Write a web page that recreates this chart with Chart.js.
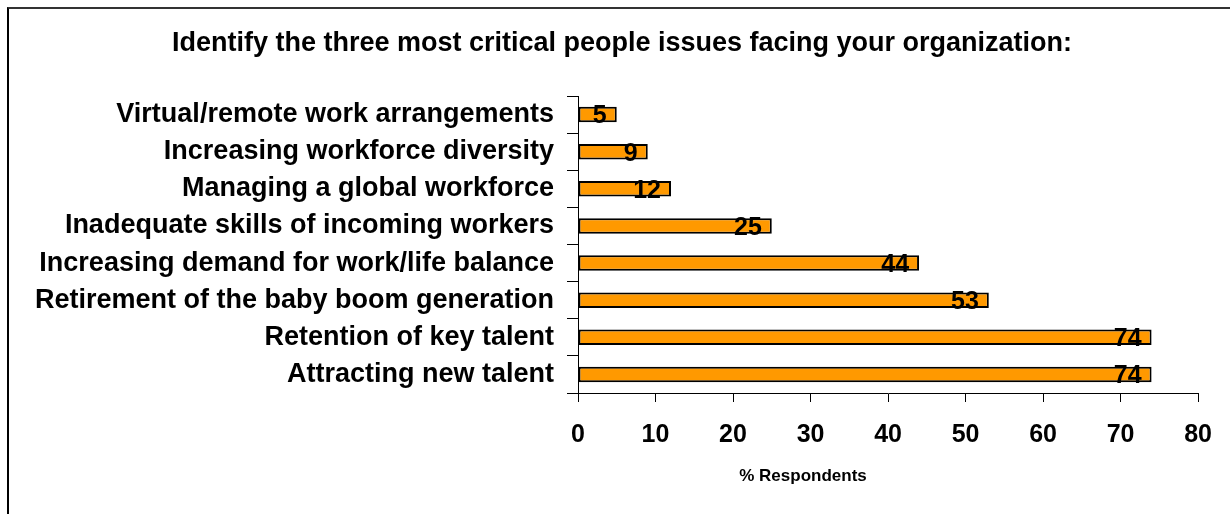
<!DOCTYPE html>
<html>
<head>
<meta charset="utf-8">
<script src="https://cdn.jsdelivr.net/npm/chart.js@4/dist/chart.umd.min.js"></script>
<style>
  html, body { margin: 0; padding: 0; background: #ffffff; }
  #wrap { position: relative; width: 1230px; height: 514px; overflow: hidden; }
  #frame { position: absolute; left: 7px; top: 7px; width: 1240px; height: 520px; border-left: 2px solid #000; border-top: 2px solid #333; }
  canvas { position: absolute; left: 0; top: 0; }
</style>
</head>
<body>
<div id="wrap">
  <div id="frame"></div>
  <canvas id="c" width="1230" height="514"></canvas>
</div>
<script>
const chartTitle = "Identify the three most critical people issues facing your organization:";
const axisTitle = "% Respondents";
const categories = [
  "Virtual/remote work arrangements",
  "Increasing workforce diversity",
  "Managing a global workforce",
  "Inadequate skills of incoming workers",
  "Increasing demand for work/life balance",
  "Retirement of the baby boom generation",
  "Retention of key talent",
  "Attracting new talent"
];
const values = [5, 9, 12, 25, 44, 53, 74, 74];
const xMin = 0, xMax = 80, xStep = 10;

const FONT = "Arial, 'Liberation Sans', sans-serif";
const NARROW = "'Liberation Sans Narrow', 'Arial Narrow', Arial, sans-serif";

const valueLabels = {
  id: 'valueLabels',
  afterDatasetsDraw(chart) {
    const ctx = chart.ctx;
    const meta = chart.getDatasetMeta(0);
    ctx.save();
    ctx.font = "bold 25px " + FONT;
    ctx.fillStyle = "#000";
    ctx.textAlign = "right";
    ctx.textBaseline = "middle";
    meta.data.forEach((bar, i) => {
      ctx.fillText(String(values[i]), bar.x - 10, bar.y + 2);
    });
    ctx.restore();
  }
};

const textPlugin = {
  id: 'textPlugin',
  afterDraw(chart) {
    const ctx = chart.ctx;
    const area = chart.chartArea;
    ctx.save();
    ctx.fillStyle = "#000";
    ctx.textAlign = "center";
    ctx.textBaseline = "middle";
    ctx.font = "bold 27px " + FONT;
    ctx.fillText(chartTitle, 622, 44);
    ctx.font = "bold 17px " + FONT;
    ctx.fillText(axisTitle, area.left + 225, area.bottom + 83);
    ctx.restore();
  }
};

new Chart(document.getElementById('c'), {
  type: 'bar',
  data: {
    labels: categories,
    datasets: [{
      data: values,
      backgroundColor: '#FF9900',
      borderColor: '#000000',
      borderWidth: 2,
      borderSkipped: false,
      barPercentage: 0.84,
      categoryPercentage: 0.5
    }]
  },
  options: {
    indexAxis: 'y',
    responsive: false,
    animation: false,
    devicePixelRatio: 1,
    layout: { padding: { left: 0, right: 31, top: 96, bottom: 0 } },
    plugins: {
      legend: { display: false },
      tooltip: { enabled: false },
      title: { display: false }
    },
    scales: {
      x: {
        min: xMin, max: xMax,
        ticks: { stepSize: xStep, color: '#000', font: { family: NARROW, size: 25, weight: 'bold' }, padding: 18, maxRotation: 0 },
        grid: { drawOnChartArea: false, drawTicks: true, tickLength: 9, color: '#000', lineWidth: 1 },
        border: { color: '#000', width: 1 },
        afterFit(scale) { scale.height = 121; }
      },
      y: {
        ticks: { color: '#000', font: { family: FONT, size: 27, weight: 'bold' }, padding: 13, autoSkip: false },
        grid: { drawOnChartArea: false, drawTicks: true, tickLength: 11, color: '#000', lineWidth: 1, offset: true },
        border: { color: '#000', width: 1 },
        afterFit(scale) { scale.width = 578; }
      }
    }
  },
  plugins: [valueLabels, textPlugin]
});
</script>
</body>
</html>
